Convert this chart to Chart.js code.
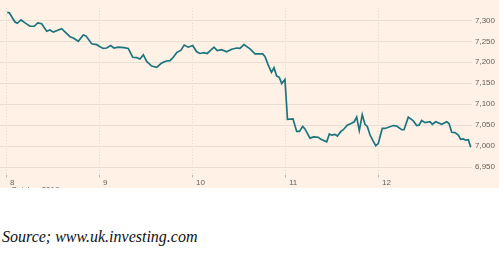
<!DOCTYPE html>
<html lang="en">
<head>
  <meta charset="UTF-8">
  <title>FTSE 100 intraday</title>
  <script src="https://cdn.jsdelivr.net/npm/chart.js"></script>
  <style>
    body { margin: 0; background: #fff; width: 499px; height: 254px; position: relative; overflow: hidden; }
    .painel { position: absolute; left: 0; top: 0; width: 499px; height: 188px; background: #fff1e5; overflow: hidden; }
    .fonte { position: absolute; left: 2px; top: 229px; font: italic 16px "Liberation Serif", "DejaVu Serif", serif; color: #111; line-height: 1; white-space: nowrap; }
  </style>
</head>
<body>
  <div class="painel">
    <canvas id="grafico" width="499" height="195"></canvas>
  </div>
  <div class="fonte">Source; www.uk.investing.com</div>

  <script>
  // dias de outubro 2018 (fracao do dia) e valor do indice
  const dias = [
    8.003, 8.025, 8.086, 8.111, 8.151, 8.194, 8.247, 8.294, 8.330, 8.373,
    8.427, 8.462, 8.498, 8.588, 8.677, 8.713, 8.767, 8.820, 8.849, 8.911,
    8.965, 9.000, 9.035, 9.072, 9.115, 9.151, 9.197, 9.258, 9.304, 9.352,
    9.395, 9.430, 9.466, 9.502, 9.556, 9.610, 9.656, 9.691, 9.717, 9.753,
    9.788, 9.825, 9.871, 9.906, 9.949, 9.997, 10.040, 10.075, 10.118, 10.154,
    10.183, 10.226, 10.261, 10.309, 10.362, 10.416, 10.470, 10.505, 10.548, 10.613,
    10.667, 10.749, 10.774, 10.806, 10.844, 10.871, 10.900, 10.928, 10.954, 10.989,
    11.016, 11.075, 11.115, 11.145, 11.180, 11.204, 11.258, 11.296, 11.347, 11.376,
    11.438, 11.466, 11.491, 11.527, 11.552, 11.591, 11.616, 11.659, 11.699, 11.734,
    11.760, 11.788, 11.820, 11.849, 11.874, 11.903, 11.932, 11.965, 11.992, 12.035,
    12.065, 12.154, 12.190, 12.244, 12.269, 12.315, 12.369, 12.405, 12.430, 12.459,
    12.495, 12.548, 12.573, 12.610, 12.674, 12.728, 12.753, 12.782, 12.817, 12.853,
    12.878, 12.906, 12.932, 12.961, 12.986
  ];
  const valores = [
    7319, 7318, 7296, 7293, 7301, 7294, 7286, 7286, 7294, 7292,
    7274, 7277, 7272, 7280, 7261, 7258, 7250, 7265, 7263, 7244,
    7242, 7237, 7233, 7234, 7240, 7234, 7236, 7235, 7233, 7212,
    7211, 7208, 7218, 7202, 7191, 7188, 7197, 7201, 7203, 7204,
    7212, 7223, 7229, 7241, 7236, 7240, 7225, 7221, 7223, 7221,
    7227, 7236, 7228, 7230, 7225, 7231, 7234, 7233, 7242, 7232,
    7220, 7220, 7214, 7195, 7176, 7187, 7167, 7164, 7149, 7159,
    7064, 7065, 7035, 7035, 7047, 7041, 7019, 7022, 7021, 7016,
    7010, 7029, 7026, 7028, 7024, 7035, 7039, 7050, 7054, 7058,
    7069, 7037, 7075, 7052, 7047, 7027, 7014, 7001, 7006, 7042,
    7042, 7049, 7048, 7039, 7039, 7069, 7060, 7049, 7050, 7061,
    7056, 7058, 7052, 7058, 7052, 7058, 7054, 7033, 7032, 7026,
    7016, 7017, 7014, 7015, 6997
  ];
  const ticksX = [8, 9, 10, 11, 12];
  const ticksY = [6950, 7000, 7050, 7100, 7150, 7200, 7250, 7300];
  const rotuloMes = 'October 2018';

  const corTexto = '#66605c';
  const corGrade = '#e9ded3';

  // texto do mes embaixo do primeiro dia (cortado pela borda do painel)
  const mesPlugin = {
    id: 'mes',
    afterDraw(chart) {
      const ctx = chart.ctx;
      const x = chart.scales.x.getPixelForValue(ticksX[0]) + 4;
      ctx.save();
      ctx.fillStyle = corTexto;
      ctx.font = '8px "Liberation Sans", Arial, sans-serif';
      ctx.textBaseline = 'top';
      ctx.fillText(rotuloMes, x, 186);
      ctx.restore();
    }
  };

  const ctx = document.getElementById('grafico').getContext('2d');
  new Chart(ctx, {
    type: 'line',
    data: {
      datasets: [{
        data: dias.map((d, i) => ({ x: d, y: valores[i] })),
        borderColor: '#1a757e',
        borderWidth: 1.7,
        pointRadius: 0,
        tension: 0,
        fill: false
      }]
    },
    options: {
      responsive: false,
      animation: false,
      layout: { padding: 0 },
      plugins: { legend: { display: false }, tooltip: { enabled: false } },
      scales: {
        x: {
          type: 'linear',
          min: 7.925,
          max: 13,
          afterBuildTicks: (s) => { s.ticks = ticksX.map(v => ({ value: v })); },
          afterFit: (s) => { s.height = 19.6; },
          grid: { color: '#e6d6c8', tickLength: 2, tickColor: '#bdb2a8', tickBorderDash: [] },
          border: { display: false, dash: [1, 2] },
          ticks: {
            color: corTexto,
            font: { size: 8, family: '"Liberation Sans", Arial, sans-serif' },
            align: 'start',
            labelOffset: 3,
            padding: 1,
            maxRotation: 0,
            autoSkip: false,
            callback: (v) => String(v)
          }
        },
        y: {
          position: 'right',
          min: 6930,
          max: 7330,
          afterBuildTicks: (s) => { s.ticks = ticksY.map(v => ({ value: v })); },
          afterFit: (s) => { s.width = 27; },
          grid: { color: corGrade, drawTicks: false },
          border: { display: false },
          ticks: {
            color: corTexto,
            font: { size: 8, family: '"Liberation Sans", Arial, sans-serif' },
            padding: 3,
            callback: (v) => v.toLocaleString('en-US')
          }
        }
      }
    },
    plugins: [mesPlugin]
  });
  </script>
</body>
</html>
